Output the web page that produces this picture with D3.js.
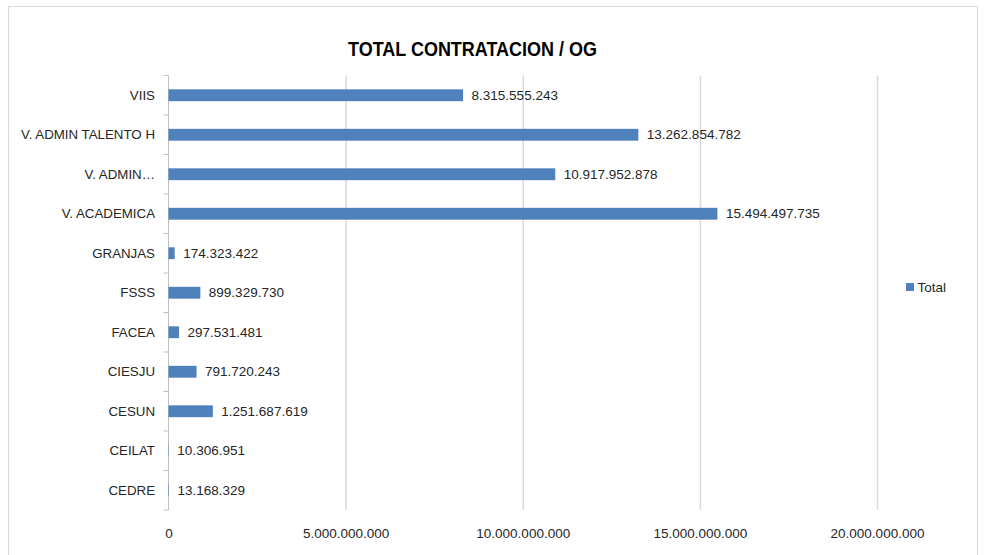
<!DOCTYPE html>
<html>
<head>
<meta charset="utf-8">
<script src="https://cdn.jsdelivr.net/npm/d3@7"></script>
<style>
  html, body { margin: 0; padding: 0; background: #fff; }
  svg { display: block; font-family: "Liberation Sans", Arial, sans-serif; }
</style>
</head>
<body>
<svg id="chart" width="984" height="555"></svg>
<script>
const categories = ["VIIS", "V. ADMIN TALENTO H", "V. ADMIN…", "V. ACADEMICA", "GRANJAS", "FSSS", "FACEA", "CIESJU", "CESUN", "CEILAT", "CEDRE"];
const totals = [8315555243, 13262854782, 10917952878, 15494497735, 174323422, 899329730, 297531481, 791720243, 1251687619, 10306951, 13168329];
const xTicks = [0, 5000000000, 10000000000, 15000000000, 20000000000];
const titleText = "TOTAL CONTRATACION / OG";
const seriesName = "Total";

(function () {
const data = categories.map((c, i) => ({ cat: c, value: totals[i] }));

const locale = d3.formatLocale({ decimal: ",", thousands: ".", grouping: [3], currency: ["", ""] });
const fmt = locale.format(",.0f");

const svg = d3.select("#chart");
const pLeft = 168.5, pRight = 877, pTop = 75.5, pBottom = 510;
const barColor = "#4F81BD";
const gridColor = "#D9D9D9";
const textColor = "#262626";

// chart border
svg.append("rect")
  .attr("x", 8.5).attr("y", 6.5)
  .attr("width", 969).attr("height", 560)
  .attr("fill", "#fff").attr("stroke", "#D9D9D9").attr("stroke-width", 1);

const x = d3.scaleLinear().domain([0, 20000000000]).range([pLeft, pRight]);
const y = d3.scaleBand().domain(categories).range([pTop, pBottom]).paddingInner(0.7).paddingOuter(0.35);

// x axis with gridlines
const xAxis = svg.append("g")
  .attr("transform", `translate(0,${pBottom})`)
  .call(d3.axisBottom(x).tickValues(xTicks).tickFormat(d => fmt(d)).tickSize(-(pBottom - pTop)).tickPadding(0));
xAxis.select(".domain").remove();
xAxis.selectAll(".tick line").attr("stroke", gridColor).attr("stroke-width", 1.5)
  .attr("display", d => d === 0 ? "none" : null);
xAxis.selectAll(".tick text")
  .attr("y", 23).attr("dy", "0.35em")
  .attr("fill", textColor).attr("font-size", "13.5px")
  .attr("font-family", "'Liberation Sans', Arial, sans-serif");

// y axis line and boundary ticks
const step = y.step();
const yAxisG = svg.append("g");
yAxisG.append("line")
  .attr("x1", pLeft).attr("x2", pLeft)
  .attr("y1", pTop).attr("y2", pBottom)
  .attr("stroke", "#BFBFBF").attr("stroke-width", 1);
const boundaries = d3.range(categories.length + 1).map(i => pTop + i * step);
yAxisG.selectAll("line.tk").data(boundaries).join("line")
  .attr("class", "tk")
  .attr("x1", pLeft - 5).attr("x2", pLeft)
  .attr("y1", d => d).attr("y2", d => d)
  .attr("stroke", "#BFBFBF").attr("stroke-width", 1);

// category labels
svg.append("g").selectAll("text").data(categories).join("text")
  .attr("x", 155)
  .attr("y", d => y(d) + y.bandwidth() / 2)
  .attr("dy", "0.35em")
  .attr("text-anchor", "end")
  .attr("font-size", "13.3px")
  .attr("fill", textColor)
  .text(d => d);

// bars
svg.append("g").selectAll("rect").data(data).join("rect")
  .attr("x", x(0))
  .attr("y", d => y(d.cat))
  .attr("width", d => x(d.value) - x(0))
  .attr("height", y.bandwidth())
  .attr("fill", barColor);

// value labels
svg.append("g").selectAll("text").data(data).join("text")
  .attr("x", d => x(d.value) + 8.5)
  .attr("y", d => y(d.cat) + y.bandwidth() / 2)
  .attr("dy", "0.35em")
  .attr("font-size", "13.5px")
  .attr("fill", textColor)
  .text(d => fmt(d.value));

// title
svg.append("text")
  .attr("x", 472.5).attr("y", 56)
  .attr("text-anchor", "middle")
  .attr("font-size", "20px")
  .attr("font-weight", "bold")
  .attr("fill", "#000")
  .attr("textLength", 249)
  .attr("lengthAdjust", "spacingAndGlyphs")
  .text(titleText);

// legend
const lg = svg.append("g").attr("transform", "translate(906,283)");
lg.append("rect").attr("width", 8).attr("height", 8).attr("fill", barColor);
lg.append("text").attr("x", 11.5).attr("y", 4).attr("dy", "0.35em")
  .attr("font-size", "13.5px").attr("fill", textColor).text(seriesName);
})();
</script>
</body>
</html>
